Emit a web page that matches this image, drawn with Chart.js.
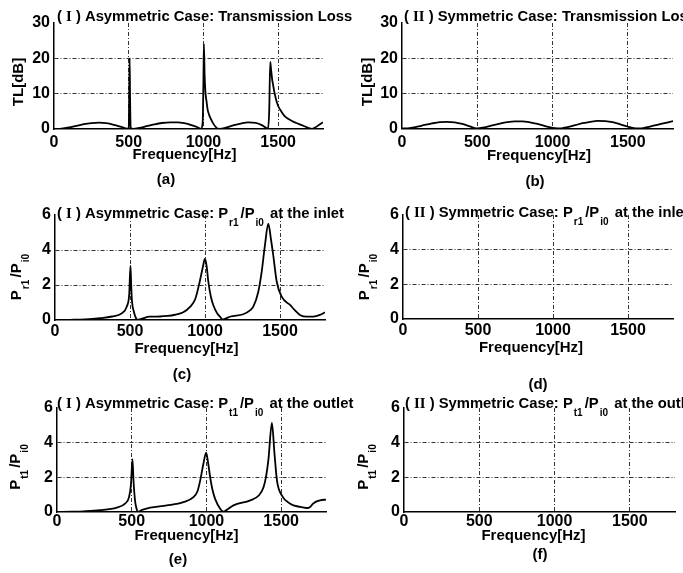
<!DOCTYPE html>
<html>
<head>
<meta charset="utf-8">
<script src="https://cdn.jsdelivr.net/npm/chart.js@4"></script>
<style>
  body { margin: 0; background: #fff; width: 683px; height: 573px; overflow: hidden; position: relative; }
  canvas { position: absolute; }
</style>
</head>
<body>
<canvas id="pa"></canvas>
<canvas id="pb"></canvas>
<canvas id="pc"></canvas>
<canvas id="pd"></canvas>
<canvas id="pe"></canvas>
<canvas id="pf"></canvas>
<script>
// tick labels
const freqTicks = [0, 500, 1000, 1500];
const tlTicks = [0, 10, 20, 30];
const pTicks = [0, 2, 4, 6];

// (a) asymmetric transmission loss [dB]
const freqTLa = [0, 50, 100, 150, 200, 250, 300, 350, 400, 450, 490, 500, 503, 506, 509, 513, 530, 570, 620, 670, 720, 780, 830, 880, 920, 960, 985, 995, 1000, 1003, 1008, 1014, 1020, 1028, 1038, 1050, 1065, 1080, 1095, 1110, 1150, 1200, 1250, 1300, 1350, 1390, 1420, 1432, 1440, 1447, 1452, 1460, 1466, 1472, 1485, 1500, 1520, 1540, 1570, 1600, 1640, 1680, 1710, 1725, 1750, 1775, 1800];
const tlAsym = [0, 0.12, 0.45, 0.9, 1.35, 1.65, 1.8, 1.65, 1.2, 0.6, 0.1, 0.4, 8, 20, 9, 0.3, 0.05, 0.3, 0.8, 1.3, 1.7, 1.9, 1.85, 1.6, 1.1, 0.5, 0.05, 2, 14, 24, 15, 10, 8, 5.5, 4, 2.8, 1.6, 0.7, 0.1, 0.05, 0.4, 1.0, 1.55, 1.85, 1.7, 1.1, 0.3, 0.1, 5, 19, 17, 14, 12.5, 11, 8.5, 6.5, 5, 3.8, 2.8, 2.1, 1.4, 0.7, 0.2, 0.05, 0.5, 1.2, 1.9];

// (b) symmetric transmission loss [dB]
const freqTLb = [0, 50, 100, 150, 200, 250, 300, 350, 400, 450, 495, 550, 600, 650, 700, 750, 800, 850, 900, 950, 1000, 1030, 1060, 1100, 1150, 1200, 1250, 1300, 1350, 1400, 1450, 1500, 1550, 1580, 1620, 1670, 1720, 1760, 1800];
const tlSym = [0, 0.12, 0.5, 1.0, 1.45, 1.8, 1.9, 1.75, 1.3, 0.6, 0.02, 0.35, 0.9, 1.4, 1.8, 2.0, 2.0, 1.75, 1.3, 0.7, 0.15, 0.02, 0.05, 0.4, 0.95, 1.5, 1.9, 2.15, 2.1, 1.8, 1.2, 0.5, 0.05, 0.02, 0.3, 0.8, 1.3, 1.7, 2.1];

// (c) asymmetric Pr1/Pi0 at the inlet
const freqInA = [0, 100, 200, 300, 380, 445, 478, 495, 503, 508, 513, 525, 540, 550, 580, 630, 700, 750, 800, 855, 900, 935, 965, 985, 1000, 1012, 1022, 1040, 1055, 1080, 1100, 1118, 1140, 1170, 1255, 1300, 1322, 1355, 1378, 1400, 1422, 1440, 1455, 1478, 1511, 1567, 1600, 1633, 1678, 1722, 1767, 1800];
const prAsym = [0, 0.01, 0.03, 0.1, 0.2, 0.38, 0.76, 1.5, 3.1, 2.0, 1.1, 0.5, 0.1, 0.02, 0.08, 0.19, 0.2, 0.23, 0.3, 0.44, 0.75, 1.2, 2.2, 3.0, 3.5, 3.0, 2.2, 1.3, 0.86, 0.4, 0.19, 0.03, 0.1, 0.2, 0.33, 0.55, 0.76, 1.6, 2.76, 4.3, 5.5, 4.6, 3.7, 2.2, 1.33, 0.86, 0.55, 0.29, 0.19, 0.19, 0.29, 0.44];

// (e) asymmetric Pt1/Pi0 at the outlet
const freqOutA = [0, 100, 176, 288, 400, 455, 482, 495, 505, 512, 522, 532, 540, 570, 623, 735, 846, 913, 940, 958, 980, 998, 1010, 1025, 1040, 1058, 1092, 1114, 1140, 1181, 1293, 1350, 1382, 1400, 1415, 1438, 1455, 1472, 1505, 1560, 1627, 1672, 1694, 1710, 1728, 1761, 1800];
const ptAsym = [0, 0.02, 0.04, 0.1, 0.25, 0.48, 0.86, 1.6, 3.05, 1.8, 0.67, 0.2, 0.02, 0.12, 0.25, 0.38, 0.57, 0.86, 1.2, 1.81, 2.8, 3.43, 2.9, 2.0, 1.3, 0.76, 0.19, 0.02, 0.15, 0.38, 0.67, 0.95, 1.43, 2.1, 3.05, 5.14, 3.4, 1.81, 0.95, 0.48, 0.29, 0.23, 0.29, 0.45, 0.57, 0.67, 0.72];

// (d), (f) symmetric case: no reflected / transmitted wave
const freqSym = [0, 300, 600, 900, 1200, 1500, 1800];
const prSym = [0, 0, 0, 0, 0, 0, 0];
const ptSym = [0, 0, 0, 0, 0, 0, 0];

const FONT = '"Liberation Sans", Arial, sans-serif';
const SERIF = '"Liberation Serif", "Times New Roman", serif';
Chart.defaults.font.family = FONT;
Chart.defaults.color = '#000';

const roman1 = [{ t: '( ' }, { t: 'I', serif: true }, { t: ' ) ' }];
const roman2 = [{ t: '( ' }, { t: 'II', serif: true }, { t: ' ) ' }];
const ratio = (a, b) => [{ t: 'P' }, { t: a, sub: true }, { t: '/P' }, { t: b, sub: true }];

// subscripts sit low and leave a small gap, like the MATLAB tex output
function drawRich(ctx, segs, x, y, size) {
  segs.forEach(s => {
    const fs = s.sub ? size * 0.68 : size;
    ctx.font = 'bold ' + fs + 'px ' + (s.serif ? SERIF : FONT);
    ctx.fillText(s.t, x + (s.sub ? 1 : 0), y + (s.sub ? size * 0.52 : 0));
    x += ctx.measureText(s.t).width + (s.sub ? 3 : 0);
  });
}
function richWidth(ctx, segs, size) {
  let w = 0;
  segs.forEach(s => {
    const fs = s.sub ? size * 0.68 : size;
    ctx.font = 'bold ' + fs + 'px ' + (s.serif ? SERIF : FONT);
    w += ctx.measureText(s.t).width + (s.sub ? 3 : 0);
  });
  return w;
}

function textPlugin(p) {
  return {
    id: 'panelText',
    afterDraw(chart) {
      const ctx = chart.ctx;
      ctx.save();
      ctx.fillStyle = '#000';
      ctx.textBaseline = 'alphabetic';
      ctx.textAlign = 'left';
      // title
      drawRich(ctx, p.title, p.titleX - p.cx, p.titleY - p.cy, 14.8);
      // y label, rotated
      ctx.save();
      ctx.translate(p.ylabX - p.cx, p.ylabY - p.cy);
      ctx.rotate(-Math.PI / 2);
      const w = richWidth(ctx, p.ylabel, 15);
      drawRich(ctx, p.ylabel, -w / 2, 0, 15);
      ctx.restore();
      // x label and caption
      ctx.textAlign = 'center';
      ctx.textBaseline = 'middle';
      ctx.font = 'bold 15px ' + FONT;
      ctx.fillText('Frequency[Hz]', p.xlabX - p.cx, p.xlabY - p.cy);
      ctx.fillText(p.caption, p.capX - p.cx, p.capY - p.cy);
      ctx.restore();
    }
  };
}

const gridColor = c => (c.tick && (c.tick.value === 0 || c.tick.value === c.scale.max)) ? 'rgba(0,0,0,0)' : '#333';

function makePanel(p) {
  const cv = document.getElementById(p.id);
  cv.width = p.w; cv.height = p.h;
  cv.style.left = p.cx + 'px'; cv.style.top = p.cy + 'px';
  const YW = 30, XH = 24;
  new Chart(cv, {
    type: 'line',
    data: {
      datasets: [{
        data: p.xs.map((x, i) => ({ x: x, y: p.ys[i] })),
        borderColor: '#000',
        borderWidth: 1.8,
        pointRadius: 0,
        cubicInterpolationMode: 'monotone',
        fill: false
      }]
    },
    options: {
      responsive: false,
      animation: false,
      events: [],
      layout: { padding: { left: p.L - p.cx - YW, top: p.T - p.cy, right: p.cx + p.w - p.R, bottom: p.cy + p.h - p.B - XH } },
      plugins: { legend: { display: false }, tooltip: { enabled: false } },
      scales: {
        x: {
          type: 'linear', min: 0, max: 1800,
          afterFit: s => { s.height = XH; },
          afterBuildTicks: s => { s.ticks = freqTicks.map(v => ({ value: v })); },
          grid: { color: gridColor, lineWidth: 1, drawTicks: false },
          border: { color: '#000', width: 1.5, dash: [4, 2, 1, 2] },
          ticks: { font: { size: 16, weight: 'bold' }, padding: p.xpad, maxRotation: 0, color: '#000', callback: v => String(v) }
        },
        y: {
          type: 'linear', min: 0, max: p.ymax,
          afterFit: s => { s.width = YW; },
          afterBuildTicks: s => { s.ticks = p.yticks.map(v => ({ value: v })); },
          grid: { color: gridColor, lineWidth: 1, drawTicks: false },
          border: { color: '#000', width: 1.5, dash: [4, 2, 1, 2] },
          ticks: { font: { size: 16, weight: 'bold' }, padding: 4, color: '#000', callback: v => String(v) }
        }
      }
    },
    plugins: [textPlugin(p)]
  });
}

const panels = [
  { id: 'pa', cx: 0, cy: 0, w: 400, h: 200, L: 54, T: 23, R: 323, B: 129, ymax: 30, yticks: tlTicks, xpad: 4,
    xs: freqTLa, ys: tlAsym,
    title: roman1.concat([{ t: 'Asymmetric Case: Transmission Loss' }]), titleX: 57, titleY: 20.5,
    ylabel: [{ t: 'TL[dB]' }], ylabX: 23, ylabY: 82, xlabX: 184.5, xlabY: 155, caption: '(a)', capX: 166, capY: 180 },
  { id: 'pb', cx: 340, cy: 0, w: 343, h: 200, L: 402, T: 23, R: 673, B: 128.5, ymax: 30, yticks: tlTicks, xpad: 4,
    xs: freqTLb, ys: tlSym,
    title: roman2.concat([{ t: 'Symmetric Case: Transmission Loss' }]), titleX: 404, titleY: 20.5,
    ylabel: [{ t: 'TL[dB]' }], ylabX: 372, ylabY: 82, xlabX: 539, xlabY: 156, caption: '(b)', capX: 535, capY: 182 },
  { id: 'pc', cx: 0, cy: 190, w: 400, h: 205, L: 55, T: 215, R: 325, B: 320, ymax: 6, yticks: pTicks, xpad: 2,
    xs: freqInA, ys: prAsym,
    title: roman1.concat([{ t: 'Asymmetric Case: ' }], ratio('r1', 'i0'), [{ t: ' at the inlet' }]), titleX: 57, titleY: 218,
    ylabel: ratio('r1', 'i0'), ylabX: 21, ylabY: 276, xlabX: 186.5, xlabY: 349, caption: '(c)', capX: 182, capY: 375 },
  { id: 'pd', cx: 340, cy: 190, w: 343, h: 205, L: 403, T: 215, R: 673, B: 319, ymax: 6, yticks: pTicks, xpad: 2,
    xs: freqSym, ys: prSym,
    title: roman2.concat([{ t: 'Symmetric Case: ' }], ratio('r1', 'i0'), [{ t: ' at the inlet' }]), titleX: 405, titleY: 217,
    ylabel: ratio('r1', 'i0'), ylabX: 369, ylabY: 276, xlabX: 531, xlabY: 348, caption: '(d)', capX: 538, capY: 385 },
  { id: 'pe', cx: 0, cy: 385, w: 400, h: 188, L: 57, T: 408, R: 326, B: 512, ymax: 6, yticks: pTicks, xpad: 0,
    xs: freqOutA, ys: ptAsym,
    title: roman1.concat([{ t: 'Asymmetric Case: ' }], ratio('t1', 'i0'), [{ t: ' at the outlet' }]), titleX: 57, titleY: 408,
    ylabel: ratio('t1', 'i0'), ylabX: 20, ylabY: 466, xlabX: 186.5, xlabY: 536, caption: '(e)', capX: 178, capY: 560 },
  { id: 'pf', cx: 340, cy: 385, w: 343, h: 188, L: 404, T: 408, R: 675, B: 512, ymax: 6, yticks: pTicks, xpad: 0,
    xs: freqSym, ys: ptSym,
    title: roman2.concat([{ t: 'Symmetric Case: ' }], ratio('t1', 'i0'), [{ t: ' at the outlet' }]), titleX: 405, titleY: 408,
    ylabel: ratio('t1', 'i0'), ylabX: 368, ylabY: 466, xlabX: 533.5, xlabY: 536, caption: '(f)', capX: 540, capY: 555 }
];

panels.forEach(makePanel);
</script>
</body>
</html>
